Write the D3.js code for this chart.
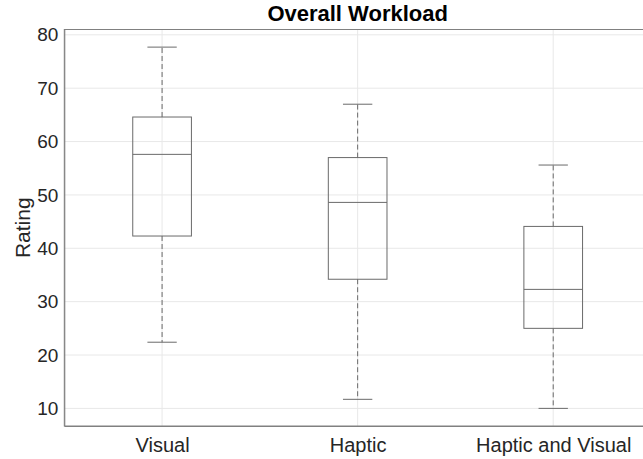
<!DOCTYPE html>
<html>
<head>
<meta charset="utf-8">
<script src="https://cdn.jsdelivr.net/npm/d3@7"></script>
<style>
  html, body { margin: 0; padding: 0; background: #fff; }
  svg { display: block; }
  text { font-family: "Liberation Sans", Arial, Helvetica, sans-serif; }
</style>
</head>
<body>
<svg id="chart" width="643" height="459"></svg>
<script>
const categories = ["Visual", "Haptic", "Haptic and Visual"];
const whiskerLow  = [22.4, 11.7, 10.0];
const q1          = [42.3, 34.2, 25.0];
const median      = [57.6, 48.6, 32.3];
const q3          = [64.6, 57.0, 44.1];
const whiskerHigh = [77.7, 67.0, 55.6];
const yTicks = [10, 20, 30, 40, 50, 60, 70, 80];
const title = "Overall Workload";
const yLabel = "Rating";

const data = categories.map((c, i) => ({
  cat: c, pos: i + 1, lo: whiskerLow[i], q1: q1[i], med: median[i], q3: q3[i], hi: whiskerHigh[i]
}));

const svg = d3.select("#chart");
const mLeft = 64.3, mRight = 651, mTop = 29.5, mBottom = 426;

const x = d3.scaleLinear().domain([0.5, 3.5]).range([mLeft, mRight]);
const y = d3.scaleLinear().domain([6.7, 81]).range([mBottom, mTop]);

const gridColor = "#e8e8e8";
const axisColor = "#808080";
const boxColor = "#6a6a6a";
const textColor = "#262626";

// grid
svg.append("g").selectAll("line").data(yTicks).join("line")
  .attr("x1", mLeft).attr("x2", mRight)
  .attr("y1", d => y(d)).attr("y2", d => y(d))
  .attr("stroke", gridColor).attr("stroke-width", 1);
svg.append("g").selectAll("line").data(data).join("line")
  .attr("x1", d => x(d.pos)).attr("x2", d => x(d.pos))
  .attr("y1", mTop).attr("y2", mBottom)
  .attr("stroke", gridColor).attr("stroke-width", 1);

// frame
svg.append("rect").attr("x", mLeft).attr("y", mTop)
  .attr("width", mRight - mLeft).attr("height", mBottom - mTop)
  .attr("fill", "none").attr("stroke", axisColor).attr("stroke-width", 1);

// y axis
const yAxis = d3.axisLeft(y).tickValues(yTicks).tickSize(0).tickPadding(6);
const gy = svg.append("g").attr("transform", `translate(${mLeft},0)`).call(yAxis);
gy.select(".domain").attr("stroke", axisColor);
gy.selectAll("text").attr("fill", textColor).style("font-size", "19px")
  .attr("font-family", "Liberation Sans, Arial, sans-serif");

// x axis
const xAxis = d3.axisBottom(x).tickValues(data.map(d => d.pos))
  .tickFormat((d, i) => categories[i]).tickSize(0).tickPadding(12);
const gx = svg.append("g").attr("transform", `translate(0,${mBottom})`).call(xAxis);
gx.select(".domain").attr("stroke", axisColor);
gx.selectAll("text").attr("fill", textColor).style("font-size", "20px")
  .attr("font-family", "Liberation Sans, Arial, sans-serif");

// boxes
const boxW = 0.3, capW = 0.15;
const g = svg.append("g").selectAll("g").data(data).join("g");
g.append("line").attr("x1", d => x(d.pos)).attr("x2", d => x(d.pos))
  .attr("y1", d => y(d.q3)).attr("y2", d => y(d.hi))
  .attr("stroke", boxColor).attr("stroke-dasharray", "5,3");
g.append("line").attr("x1", d => x(d.pos)).attr("x2", d => x(d.pos))
  .attr("y1", d => y(d.q1)).attr("y2", d => y(d.lo))
  .attr("stroke", boxColor).attr("stroke-dasharray", "5,3");
g.append("line").attr("x1", d => x(d.pos - capW / 2)).attr("x2", d => x(d.pos + capW / 2))
  .attr("y1", d => y(d.hi)).attr("y2", d => y(d.hi)).attr("stroke", boxColor);
g.append("line").attr("x1", d => x(d.pos - capW / 2)).attr("x2", d => x(d.pos + capW / 2))
  .attr("y1", d => y(d.lo)).attr("y2", d => y(d.lo)).attr("stroke", boxColor);
g.append("rect").attr("x", d => x(d.pos - boxW / 2)).attr("width", d => x(d.pos + boxW / 2) - x(d.pos - boxW / 2))
  .attr("y", d => y(d.q3)).attr("height", d => y(d.q1) - y(d.q3))
  .attr("fill", "none").attr("stroke", boxColor);
g.append("line").attr("x1", d => x(d.pos - boxW / 2)).attr("x2", d => x(d.pos + boxW / 2))
  .attr("y1", d => y(d.med)).attr("y2", d => y(d.med)).attr("stroke", boxColor);

// title
svg.append("text").attr("x", (mLeft + mRight) / 2).attr("y", 21)
  .attr("text-anchor", "middle").attr("fill", "#000")
  .style("font-size", "22px").style("font-weight", "bold").text(title);

// y label
svg.append("text").attr("transform", `translate(30,${(mTop + mBottom) / 2}) rotate(-90)`)
  .attr("text-anchor", "middle").attr("fill", textColor)
  .style("font-size", "21px").text(yLabel);
</script>
</body>
</html>
